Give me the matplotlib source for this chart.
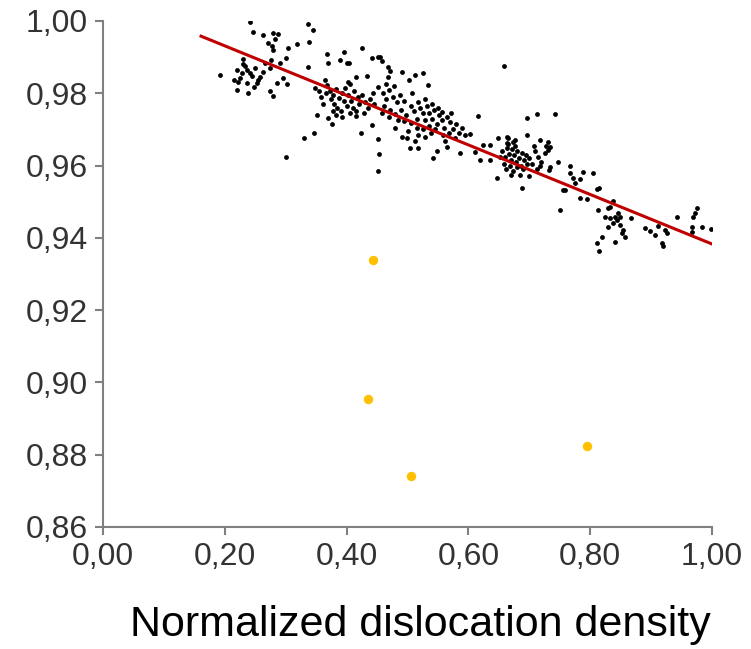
import numpy as np
import matplotlib
matplotlib.use("Agg")
import matplotlib.pyplot as plt
from matplotlib.ticker import FuncFormatter

plt.rcParams['font.family'] = ['Liberation Sans', 'DejaVu Sans']

# black scatter, grouped by region along x
group_left = [
    (0.241, 0.9997), (0.246, 0.9970), (0.263, 0.9960), (0.279, 0.9967), (0.287, 0.9964),
    (0.282, 0.9950), (0.271, 0.9940), (0.278, 0.9930), (0.279, 0.9920), (0.304, 0.9925),
    (0.318, 0.9936), (0.337, 0.9992), (0.345, 0.9975), (0.338, 0.9942), (0.300, 0.9898),
    (0.276, 0.9892), (0.291, 0.9884), (0.274, 0.9870), (0.192, 0.9850), (0.220, 0.9864),
    (0.233, 0.9875), (0.236, 0.9864), (0.228, 0.9856), (0.241, 0.9856), (0.250, 0.9870),
    (0.225, 0.9842), (0.222, 0.9831), (0.236, 0.9828), (0.253, 0.9828), (0.258, 0.9845),
    (0.255, 0.9837), (0.220, 0.9809), (0.238, 0.9800), (0.274, 0.9806), (0.279, 0.9792),
    (0.286, 0.9828), (0.296, 0.9842), (0.302, 0.9826), (0.337, 0.9873), (0.300, 0.9624),
    (0.330, 0.9676), (0.346, 0.9690), (0.351, 0.9740), (0.230, 0.9880), (0.245, 0.9848),
    (0.262, 0.9858), (0.215, 0.9838), (0.248, 0.9818), (0.266, 0.9885), (0.230, 0.9895),
]
group_mid1 = [
    (0.368, 0.9910), (0.369, 0.9884), (0.396, 0.9914), (0.389, 0.9892), (0.401, 0.9884),
    (0.404, 0.9884), (0.425, 0.9925), (0.442, 0.9898), (0.452, 0.9900), (0.415, 0.9845),
    (0.433, 0.9848), (0.402, 0.9831), (0.406, 0.9826), (0.365, 0.9837), (0.368, 0.9823),
    (0.348, 0.9815), (0.443, 0.9800), (0.452, 0.9817), (0.369, 0.9732), (0.376, 0.9715),
    (0.392, 0.9734), (0.415, 0.9737), (0.424, 0.9690), (0.442, 0.9712), (0.452, 0.9673),
    (0.453, 0.9632), (0.452, 0.9585),
    (0.372, 0.9805), (0.378, 0.9795), (0.383, 0.9812), (0.387, 0.9788), (0.392, 0.9800),
    (0.396, 0.9778), (0.380, 0.9770), (0.385, 0.9760), (0.375, 0.9785), (0.398, 0.9815),
    (0.403, 0.9795), (0.408, 0.9780), (0.412, 0.9805), (0.418, 0.9790), (0.420, 0.9770),
    (0.410, 0.9760), (0.400, 0.9765), (0.390, 0.9750), (0.378, 0.9752), (0.425, 0.9795),
    (0.430, 0.9775), (0.435, 0.9760), (0.428, 0.9745), (0.438, 0.9785), (0.445, 0.9770),
    (0.358, 0.9790), (0.362, 0.9770), (0.366, 0.9800), (0.355, 0.9805), (0.383, 0.9740),
    (0.405, 0.9745), (0.415, 0.9750),
]
group_mid2 = [
    (0.455, 0.9900), (0.458, 0.9888), (0.468, 0.9873), (0.471, 0.9862), (0.468, 0.9845),
    (0.491, 0.9859), (0.502, 0.9837), (0.512, 0.9850), (0.525, 0.9856), (0.534, 0.9823),
    (0.479, 0.9704), (0.491, 0.9680), (0.499, 0.9676), (0.504, 0.9649), (0.517, 0.9649),
    (0.512, 0.9668), (0.542, 0.9620), (0.548, 0.9640), (0.565, 0.9651), (0.586, 0.9635),
    (0.460, 0.9800), (0.465, 0.9785), (0.470, 0.9808), (0.476, 0.9790), (0.482, 0.9775),
    (0.488, 0.9795), (0.494, 0.9780), (0.462, 0.9765), (0.472, 0.9755), (0.480, 0.9742),
    (0.490, 0.9755), (0.498, 0.9740), (0.505, 0.9765), (0.510, 0.9750), (0.515, 0.9730),
    (0.520, 0.9760), (0.525, 0.9745), (0.528, 0.9725), (0.532, 0.9765), (0.536, 0.9745),
    (0.540, 0.9730), (0.544, 0.9755), (0.548, 0.9715), (0.552, 0.9740), (0.556, 0.9725),
    (0.560, 0.9705), (0.565, 0.9735), (0.570, 0.9720), (0.575, 0.9700), (0.580, 0.9715),
    (0.585, 0.9690), (0.545, 0.9700), (0.535, 0.9710), (0.525, 0.9700), (0.515, 0.9705),
    (0.505, 0.9718), (0.495, 0.9722), (0.485, 0.9725), (0.558, 0.9685), (0.568, 0.9690),
    (0.538, 0.9690), (0.528, 0.9680), (0.518, 0.9685), (0.500, 0.9695), (0.540, 0.9770),
    (0.550, 0.9760), (0.528, 0.9785), (0.518, 0.9775), (0.508, 0.9800), (0.478, 0.9820),
    (0.465, 0.9825), (0.556, 0.9748), (0.572, 0.9745), (0.590, 0.9705), (0.595, 0.9685),
    (0.578, 0.9675), (0.562, 0.9668), (0.470, 0.9735), (0.458, 0.9745),
]
group_mid3 = [
    (0.616, 0.9737), (0.603, 0.9687), (0.611, 0.9637), (0.619, 0.9615), (0.635, 0.9615),
    (0.624, 0.9656), (0.635, 0.9656), (0.648, 0.9676), (0.647, 0.9566), (0.688, 0.9538),
    (0.700, 0.9570), (0.696, 0.9732), (0.713, 0.9743), (0.696, 0.9684), (0.663, 0.9679),
    (0.673, 0.9665), (0.663, 0.9662), (0.718, 0.9671), (0.731, 0.9665), (0.734, 0.9652),
    (0.731, 0.9643), (0.658, 0.9875),
    (0.655, 0.9640), (0.660, 0.9625), (0.663, 0.9650), (0.667, 0.9632), (0.670, 0.9615),
    (0.672, 0.9645), (0.675, 0.9628), (0.678, 0.9610), (0.680, 0.9640), (0.683, 0.9620),
    (0.686, 0.9600), (0.688, 0.9635), (0.691, 0.9615), (0.694, 0.9628), (0.697, 0.9605),
    (0.668, 0.9600), (0.662, 0.9590), (0.673, 0.9585), (0.680, 0.9595), (0.658, 0.9605),
    (0.665, 0.9660), (0.676, 0.9655), (0.652, 0.9625), (0.670, 0.9575), (0.690, 0.9590),
    (0.684, 0.9575), (0.700, 0.9620), (0.705, 0.9605), (0.710, 0.9640), (0.715, 0.9625),
    (0.720, 0.9610), (0.708, 0.9655), (0.725, 0.9635), (0.727, 0.9655), (0.712, 0.9590),
    (0.718, 0.9600), (0.677, 0.9670), (0.665, 0.9675),
]
group_right = [
    (0.742, 0.9743), (0.747, 0.9610), (0.734, 0.9596), (0.732, 0.9588), (0.767, 0.9600),
    (0.767, 0.9580), (0.788, 0.9582), (0.805, 0.9580), (0.772, 0.9566), (0.783, 0.9563),
    (0.775, 0.9552), (0.759, 0.9532), (0.811, 0.9535), (0.814, 0.9538), (0.783, 0.9510),
    (0.795, 0.9507), (0.750, 0.9477), (0.755, 0.9532), (0.813, 0.9477), (0.829, 0.9483),
    (0.837, 0.9502), (0.824, 0.9458), (0.833, 0.9455), (0.841, 0.9458), (0.846, 0.9469),
    (0.829, 0.9430), (0.849, 0.9436), (0.854, 0.9422), (0.852, 0.9413), (0.857, 0.9402),
    (0.841, 0.9389), (0.819, 0.9402), (0.811, 0.9386), (0.814, 0.9364), (0.867, 0.9455),
    (0.833, 0.9485), (0.849, 0.9458), (0.844, 0.9450), (0.837, 0.9440),
    (0.890, 0.9428), (0.898, 0.9419), (0.906, 0.9408), (0.912, 0.9432), (0.923, 0.9422),
    (0.926, 0.9413), (0.918, 0.9386), (0.920, 0.9377), (0.943, 0.9458), (0.972, 0.9469),
    (0.969, 0.9458), (0.967, 0.9430), (0.984, 0.9430), (0.998, 0.9425), (0.967, 0.9416),
    (0.975, 0.9483),
]

# outliers (orange)
out_x = [0.443, 0.435, 0.506, 0.795]
out_y = [0.9339, 0.8955, 0.8741, 0.8825]

# trend line
trend_x = [0.161, 1.0]
trend_y = [0.9958, 0.9383]

xticks = [0.0, 0.2, 0.4, 0.6, 0.8, 1.0]
yticks = [0.86, 0.88, 0.90, 0.92, 0.94, 0.96, 0.98, 1.00]

pts = np.array(group_left + group_mid1 + group_mid2 + group_mid3 + group_right)

fig = plt.figure(figsize=(7.51, 6.49), dpi=100)
ax = fig.add_axes([103/751, 1 - 527/649, 609/751, 506/649])

ax.scatter(pts[:, 0], pts[:, 1], s=12, c='black', lw=0, zorder=2)
ax.plot(trend_x, trend_y, color='#c00000', lw=2.2, zorder=3)
ax.scatter(out_x, out_y, s=46, c='#ffc000', lw=0, zorder=2)

ax.set_xlim(0, 1)
ax.set_ylim(0.86, 1.0)
ax.set_xticks(xticks)
ax.set_yticks(yticks)
comma = FuncFormatter(lambda v, p: f"{v:.2f}".replace('.', ','))
ax.xaxis.set_major_formatter(comma)
ax.yaxis.set_major_formatter(comma)

for s in ['top', 'right']:
    ax.spines[s].set_visible(False)
for s in ['left', 'bottom']:
    ax.spines[s].set_color('#808080')
    ax.spines[s].set_linewidth(1.5)
ax.tick_params(direction='out', length=6, width=1.5, color='#808080',
               labelsize=23, labelcolor='#333333', pad=5)

fig.text(420/751, 1 - 625/649, 'Normalized dislocation density',
         ha='center', va='center', fontsize=31, color='black')

fig.savefig('out.png', dpi=100)
